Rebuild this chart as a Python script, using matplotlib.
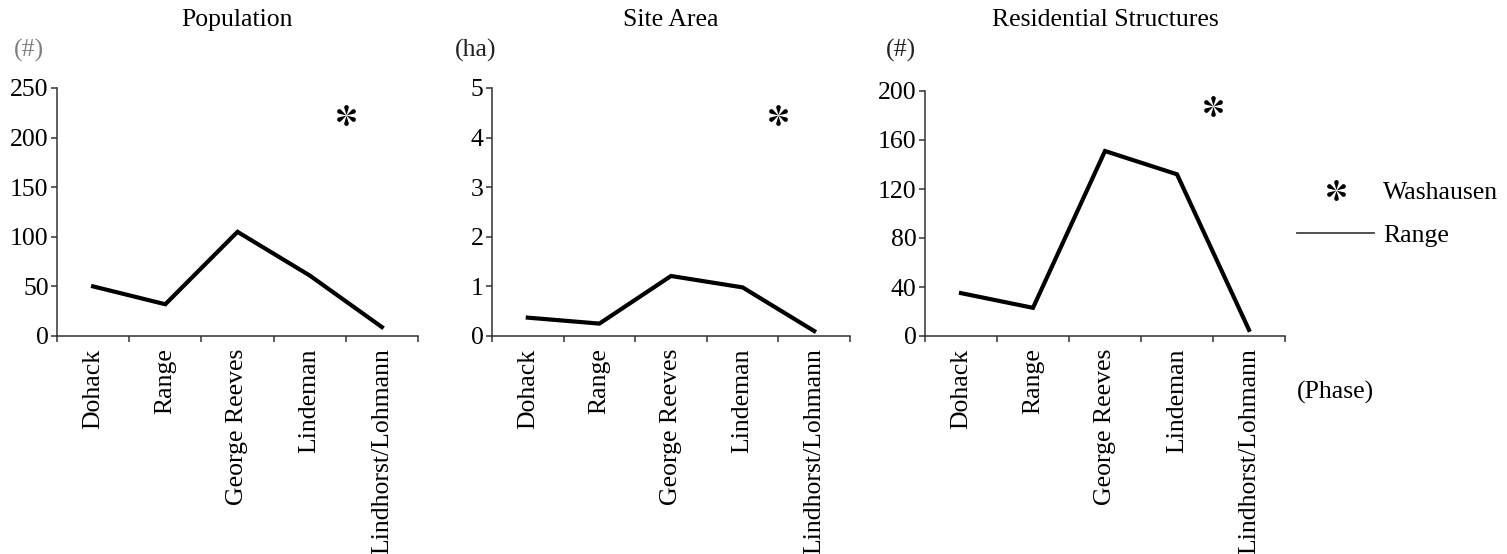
import numpy as np
import matplotlib
matplotlib.use("Agg")
import matplotlib.pyplot as plt
from matplotlib.lines import Line2D
from matplotlib.path import Path

plt.rcParams['font.family'] = ['Liberation Serif', 'DejaVu Serif']

phases = ["Dohack", "Range", "George Reeves", "Lindeman", "Lindhorst/Lohmann"]

titles = ["Population", "Site Area", "Residential Structures"]
units = ["(#)", "(ha)", "(#)"]
unit_colors = ["#7f7f7f", "#222222", "#222222"]

population = [50, 32, 105, 61, 9]
site_area = [0.37, 0.25, 1.21, 0.98, 0.10]
structures = [35, 23, 151, 132, 5]
series = [population, site_area, structures]

# Washausen sits between Lindeman and Lindhorst/Lohmann
washausen_pos = 4
washausen = [223, 4.46, 188]

y_max = [250, 5, 200]
y_step = [50, 1, 40]

FS = 18.5


def petal_star(n=6, r_tip=0.5, r_head=0.11):
    # asterisk made of teardrop petals, one pointing straight up
    a = np.linspace(np.radians(-25), np.radians(205), 24)
    cy = r_tip - r_head
    petal = np.column_stack([r_head * np.cos(a), cy + r_head * np.sin(a)])
    petal = np.vstack([[0, 0.02], petal, [0, 0.02]])
    verts, codes = [], []
    for k in range(n):
        th = np.radians(360 / n * k)
        rot = np.array([[np.cos(th), -np.sin(th)], [np.sin(th), np.cos(th)]])
        pts = petal @ rot.T
        verts.extend(pts)
        codes.extend([Path.MOVETO] + [Path.LINETO] * (len(pts) - 2)
                     + [Path.CLOSEPOLY])
    return Path(np.array(verts), codes)


star = petal_star()

fig = plt.figure(figsize=(15.07, 5.54), dpi=100)
W, H = 1507, 554

# axes boxes in pixels: left, right, top, bottom
boxes = [(57, 418, 88, 336), (492, 850, 88, 336), (925, 1285, 91, 336)]
unit_x = [14, 455, 886]

for i, (l, r, t, b) in enumerate(boxes):
    ax = fig.add_axes([l / W, 1 - b / H, (r - l) / W, (b - t) / H])
    x = np.arange(len(phases)) + 0.5
    ax.plot(x, series[i], color="black", lw=3, solid_joinstyle="miter")
    ax.plot([washausen_pos], [washausen[i]], linestyle="none",
            marker=star, markersize=15, color="black", markeredgewidth=0)

    ax.set_xlim(0, len(phases))
    ax.set_ylim(0, y_max[i])
    ax.set_yticks(np.arange(0, y_max[i] + y_step[i] / 2, y_step[i]))
    ax.set_xticks(np.arange(len(phases) + 1))
    ax.set_xticklabels([])
    ax.set_xticks(x, minor=True)
    ax.set_xticklabels(phases, minor=True, rotation=90, fontsize=FS)
    ax.tick_params(axis="x", which="minor", length=0, pad=9)
    ax.tick_params(axis="x", which="major", length=4, width=1.1,
                   color="#333333")
    ax.tick_params(axis="y", length=4, width=1.1, color="#333333",
                   labelsize=FS, pad=2)

    for s in ["top", "right"]:
        ax.spines[s].set_visible(False)
    for s in ["left", "bottom"]:
        ax.spines[s].set_color("#333333")
        ax.spines[s].set_linewidth(1.1)

    hpx = b - t
    ax.text(0.5, 1 + (t - 20) / hpx, titles[i], transform=ax.transAxes,
            ha="center", va="center", fontsize=FS)
    ax.text((unit_x[i] - l) / (r - l), 1 + (t - 50) / hpx, units[i],
            transform=ax.transAxes, ha="left", va="center", fontsize=FS,
            color=unit_colors[i])

handles = [
    Line2D([], [], linestyle="none", marker=star, markersize=15,
           color="black", markeredgewidth=0),
    Line2D([], [], color="#444444", lw=1.3),
]
fig.legend(handles, ["Washausen", "Range"], loc="center left",
           bbox_to_anchor=(1287 / W, 1 - 214 / H), frameon=False,
           fontsize=FS, handlelength=3.0, handletextpad=0.35,
           labelspacing=0.8, borderaxespad=0)

fig.text(1297 / W, 1 - 392 / H, "(Phase)", ha="left", va="center",
         fontsize=FS)

fig.savefig("out.png", dpi=100)
